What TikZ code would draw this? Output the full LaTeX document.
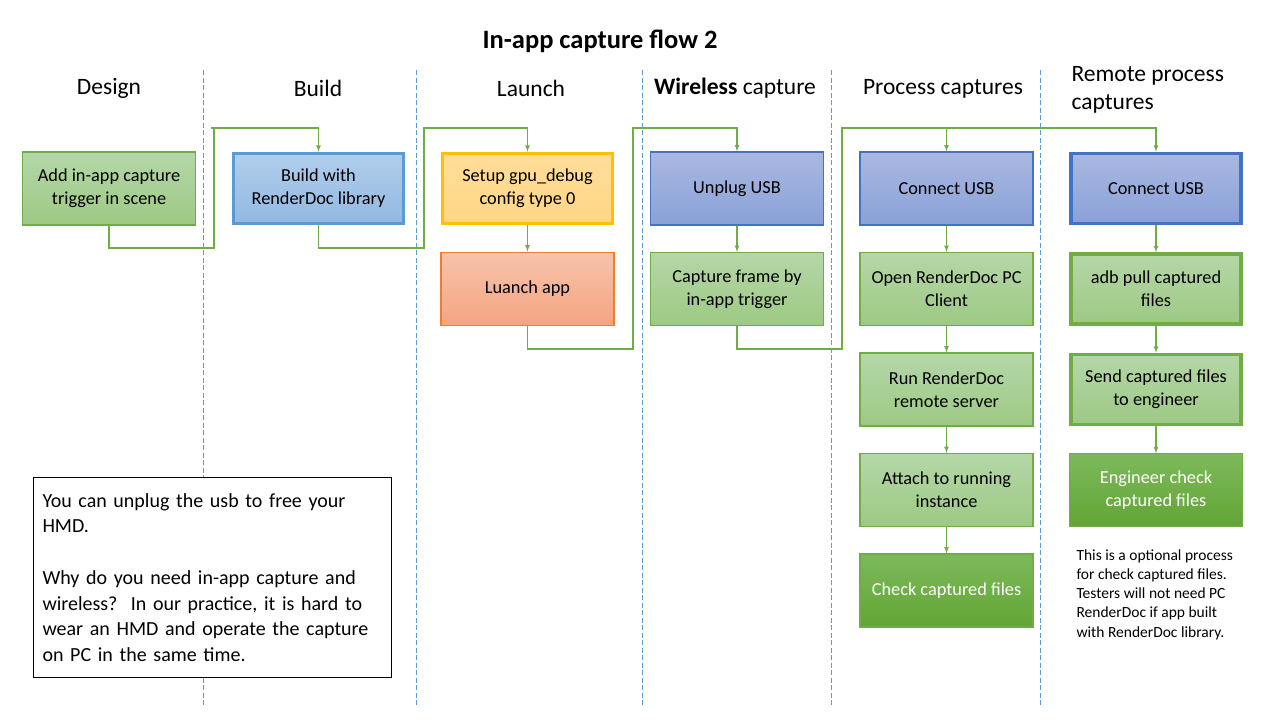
\documentclass[tikz,border=0pt]{standalone}
\usepackage{fontspec}
\setmainfont{Carlito}
\usetikzlibrary{positioning}
\definecolor{grnline}{HTML}{70AD47}
\definecolor{grntop}{HTML}{B5D7A8}
\definecolor{grnbot}{HTML}{9DC984}
\definecolor{dgrntop}{HTML}{7DB95B}
\definecolor{dgrnbot}{HTML}{62A535}
\definecolor{bluline}{HTML}{5B9BD5}
\definecolor{blutop}{HTML}{B1CEEC}
\definecolor{blubot}{HTML}{93B8E2}
\definecolor{purline}{HTML}{4472C4}
\definecolor{purtop}{HTML}{AAB8E1}
\definecolor{purbot}{HTML}{89A1D8}
\definecolor{yelline}{HTML}{FFC000}
\definecolor{yeltop}{HTML}{FFDD99}
\definecolor{yelbot}{HTML}{FFD686}
\definecolor{orgline}{HTML}{ED7D31}
\definecolor{orgtop}{HTML}{F7C3AB}
\definecolor{orgbot}{HTML}{F4A581}
\tikzset{
  box/.style={draw,line width=1.2pt,minimum width=173pt,minimum height=73pt,
    align=center,inner sep=0pt,font=\fontsize{18.3}{23}\selectfont},
  greenbox/.style={box,draw=grnline,top color=grntop,bottom color=grnbot},
  darkbox/.style={box,draw=grnline,top color=dgrntop,bottom color=dgrnbot,text=white},
  bluebox/.style={box,draw=bluline,line width=3.5pt,top color=blutop,bottom color=blubot},
  usbbox/.style={box,draw=purline,top color=purtop,bottom color=purbot},
  yellowbox/.style={box,draw=yelline,line width=3.5pt,top color=yeltop,bottom color=yelbot},
  orangebox/.style={box,draw=orgline,top color=orgtop,bottom color=orgbot},
  thickbox/.style={line width=3.5pt,minimum width=170pt,minimum height=70pt},
  flow/.style={->,draw=grnline,line width=1.2pt},
  lane/.style={draw=bluline,line width=1pt,dash pattern=on 5pt off 2.5pt},
  head/.style={font=\fontsize{23.5}{28}\selectfont}
}
\begin{document}
\begin{tikzpicture}[x=1pt,y=-1pt,>={latex},node distance=26.3pt]
  \useasboundingbox (0,0) rectangle (1280,720);
  % title and lane headings
  \node[font=\bfseries\fontsize{26.5}{30}\selectfont] (title) at (600,41) {In-app capture flow 2};
  \node[head] (hdesign) at (109,88.5) {Design};
  \node[head] (hbuild) at (318,88.5) {Build};
  \node[head] (hlaunch) at (531,88.5) {Launch};
  \node[head] (hwireless) at (735,88.5) {\textbf{Wireless} capture};
  \node[head] (hprocess) at (943,88.5) {Process captures};
  \node[head,align=left,anchor=west] (hremote) at (1068,90) {Remote process\\captures};
  % lane dividers
  \foreach \lx in {203,416,642,831,1040}
    \draw[lane] (\lx,70) -- (\lx,706);
  % boxes
  \node[greenbox] (trigger) at (109,188.5) {Add in-app capture\\trigger in scene};
  \node[bluebox,thickbox] (build) at (318.5,188.5) {Build with\\RenderDoc library};
  \node[yellowbox,thickbox] (setup) at (527.5,188.5) {Setup gpu\_debug\\config type 0};
  \node[orangebox,below=of setup] (launch) {Luanch app};
  \node[usbbox] (unplug) at (737,188.5) {Unplug USB};
  \node[greenbox,below=of unplug] (capture) {Capture frame by\\in-app trigger};
  \node[usbbox] (connect) at (946.5,188.5) {Connect USB};
  \node[greenbox,below=of connect] (client) {Open RenderDoc PC\\Client};
  \node[greenbox,below=of client] (server) {Run RenderDoc\\remote server};
  \node[greenbox,below=of server] (attach) {Attach to running\\instance};
  \node[darkbox,below=of attach] (check) {Check captured files};
  \node[usbbox,thickbox] (rconnect) at (1156,188.5) {Connect USB};
  \node[greenbox,thickbox,below=27pt of rconnect] (pull) {adb pull captured\\files};
  \node[greenbox,thickbox,below=27pt of pull] (send) {Send captured files\\to engineer};
  \node[darkbox,below=27pt of send] (engineer) {Engineer check\\captured files};
  % notes
  \node[anchor=north west,align=left,font=\fontsize{15.5}{19.2}\selectfont] (optional) at (1073,546)
    {This is a optional process\\for check captured files.\\Testers will not need PC\\RenderDoc if app built\\with RenderDoc library.};
  \node[draw,fill=white,line width=1pt,anchor=north west,minimum width=358pt,minimum height=200pt,text width=340pt,
    align=left,inner sep=8pt,font=\fontsize{20}{25.7}\selectfont] (why) at (33,477)
    {You can unplug the usb to free your\\HMD.\\[25.7pt]Why do you need in-app capture and\\wireless?\ \ In our practice, it is hard to\\wear an HMD and operate the capture\\on PC in the same time.\par\vspace{20pt}};
  % connectors
  \draw[flow] (trigger.south) |- (214,248) |- (211,128) -| (build.north);
  \draw[flow] (build.south) |- (424,248) |- (424,128) -| (setup.north);
  \draw[flow] (setup) -- (launch);
  \draw[flow] (launch.south) |- (633,349) |- (633,128) -| (unplug.north);
  \draw[flow] (unplug) -- (capture);
  \draw[flow] (capture.south) |- (842,349) |- (842,128) -| (connect.north);
  \draw[flow] (connect.north |- 0,128) -| (rconnect.north);
  \draw[flow] (connect) -- (client);
  \draw[flow] (client) -- (server);
  \draw[flow] (server) -- (attach);
  \draw[flow] (attach) -- (check);
  \draw[flow] (rconnect) -- (pull);
  \draw[flow] (pull) -- (send);
  \draw[flow] (send) -- (engineer);
\end{tikzpicture}
\end{document}
